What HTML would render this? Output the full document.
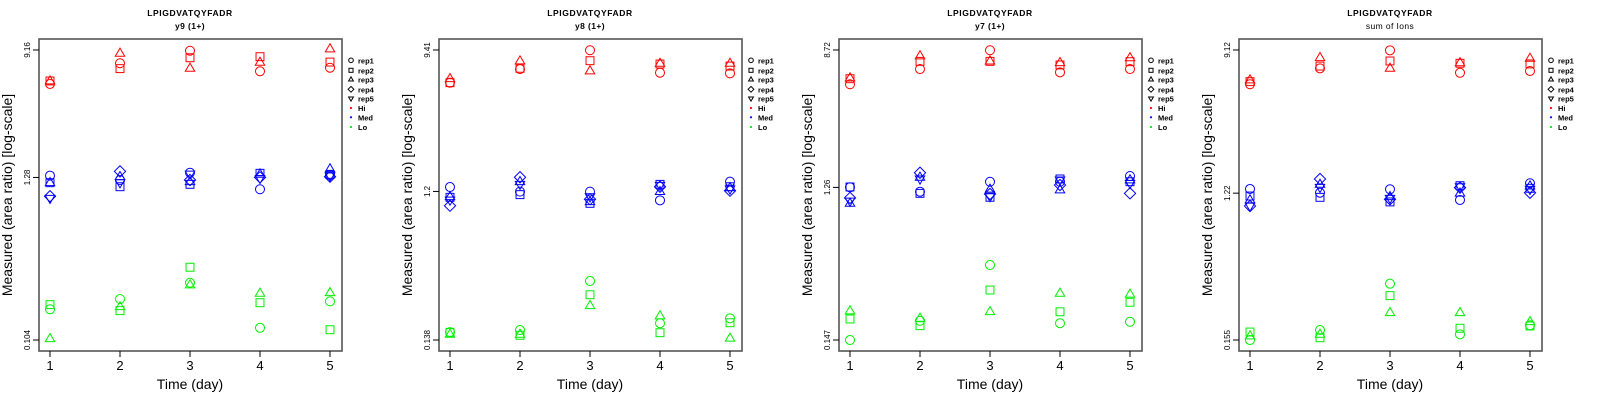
<!DOCTYPE html>
<html><head><meta charset="utf-8">
<style>
html,body{margin:0;padding:0;background:#fff;}
svg{display:block;font-family:"Liberation Sans",sans-serif;}
</style></head>
<body>
<svg id="chart" width="1600" height="400" viewBox="0 0 1600 400" xmlns="http://www.w3.org/2000/svg"></svg>
<script>
// Data: log10(area ratio), rows = replicates, columns = days 1..5
const days = [1, 2, 3, 4, 5];
const panelTitles = ["y9 (1+)", "y8 (1+)", "y7 (1+)", "sum of Ions"];
const peptide = "LPIGDVATQYFADR";
const tickLabels = [["0.104", "1.28", "9.16"], ["0.138", "1.2", "9.41"], ["0.147", "1.26", "8.72"], ["0.155", "1.22", "9.12"]];
const tickValues = [[0.104, 1.28, 9.16], [0.138, 1.2, 9.41], [0.147, 1.26, 8.72], [0.155, 1.22, 9.12]];

const p1Hi = [[0.734,0.873,0.957,0.819,0.843],[0.754,0.837,0.910,0.917,0.881],[0.754,0.940,0.839,0.879,0.969]];
const p1Med = [[0.119,0.090,0.139,0.028,0.124],[0.072,0.045,0.061,0.135,0.128],[0.072,0.112,0.079,0.130,0.164],[-0.019,0.148,0.090,0.108,0.112],[-0.033,0.072,0.130,0.101,0.117]];
const p1Lo = [[-0.777,-0.708,-0.599,-0.901,-0.724],[-0.746,-0.786,-0.495,-0.733,-0.914],[-0.974,-0.760,-0.614,-0.670,-0.666]];

const p2Hi = [[0.767,0.853,0.972,0.830,0.826],[0.767,0.858,0.906,0.885,0.872],[0.792,0.904,0.841,0.889,0.889]];
const p2Med = [[0.107,0.078,0.078,0.023,0.141],[0.042,0.059,0.004,0.124,0.109],[0.046,0.141,0.014,0.078,0.103],[-0.011,0.169,0.030,0.109,0.084],[0.025,0.124,0.046,0.118,0.095]];
const p2Lo = [[-0.810,-0.797,-0.487,-0.754,-0.723],[-0.812,-0.830,-0.574,-0.814,-0.751],[-0.824,-0.824,-0.643,-0.708,-0.849]];

const p3Hi = [[0.731,0.824,0.939,0.804,0.824],[0.765,0.871,0.871,0.849,0.869],[0.769,0.904,0.873,0.863,0.893]];
const p3Med = [[0.101,0.074,0.135,0.135,0.170],[0.103,0.064,0.040,0.152,0.135],[0.003,0.162,0.089,0.085,0.146],[0.036,0.190,0.060,0.115,0.064],[0.017,0.152,0.044,0.146,0.125]];
const p3Lo = [[-0.833,-0.715,-0.374,-0.730,-0.721],[-0.704,-0.745,-0.527,-0.660,-0.602],[-0.655,-0.700,-0.660,-0.547,-0.553]];

const p4Hi = [[0.751,0.848,0.958,0.821,0.832],[0.767,0.862,0.893,0.879,0.875],[0.777,0.913,0.848,0.882,0.909]];
const p4Med = [[0.112,0.089,0.110,0.045,0.147],[0.069,0.061,0.033,0.132,0.116],[0.045,0.140,0.065,0.086,0.130],[0.008,0.173,0.049,0.120,0.089],[0.008,0.122,0.055,0.126,0.110]];
const p4Lo = [[-0.810,-0.749,-0.466,-0.775,-0.720],[-0.761,-0.796,-0.539,-0.738,-0.724],[-0.785,-0.775,-0.643,-0.643,-0.698]];

const panelsHi = [p1Hi, p2Hi, p3Hi, p4Hi];
const panelsMed = [p1Med, p2Med, p3Med, p4Med];
const panelsLo = [p1Lo, p2Lo, p3Lo, p4Lo];
const legendLabels = ["rep1", "rep2", "rep3", "rep4", "rep5", "Hi", "Med", "Lo"];

const NS = "http://www.w3.org/2000/svg";
const svg = document.getElementById("chart");
function mk(tag, attrs, parent) {
  const e = document.createElementNS(NS, tag);
  for (const k in attrs) e.setAttribute(k, attrs[k]);
  parent.appendChild(e);
  return e;
}
function marker(shape, cx, cy, color, parent, r) {
  let e;
  if (shape === 0) e = mk("circle", {cx: cx, cy: cy, r: r, fill: "none", stroke: color, "stroke-width": 1}, parent);
  else if (shape === 1) e = mk("rect", {x: cx - r * 0.88, y: cy - r * 0.88, width: r * 1.76, height: r * 1.76, fill: "none", stroke: color, "stroke-width": 1}, parent);
  else if (shape === 2) e = mk("polygon", {points: `${cx},${cy - r * 1.15} ${cx - r * 1.05},${cy + r * 0.65} ${cx + r * 1.05},${cy + r * 0.65}`, fill: "none", stroke: color, "stroke-width": 1}, parent);
  else if (shape === 3) e = mk("polygon", {points: `${cx},${cy - r * 1.25} ${cx + r * 1.25},${cy} ${cx},${cy + r * 1.25} ${cx - r * 1.25},${cy}`, fill: "none", stroke: color, "stroke-width": 1}, parent);
  else e = mk("polygon", {points: `${cx},${cy + r * 1.15} ${cx - r * 1.05},${cy - r * 0.65} ${cx + r * 1.05},${cy - r * 0.65}`, fill: "none", stroke: color, "stroke-width": 1}, parent);
  return e;
}

for (let p = 0; p < 4; p++) {
  const ox = p * 400;
  const g = mk("g", {transform: `translate(${ox},0)`}, svg);
  
  
  const lmin = Math.log10(tickValues[p][0]);
  const lmax = Math.log10(tickValues[p][2]);
  const yScale = v => 50 + (lmax - v) / (lmax - lmin) * 290;
  const xScale = d => 50 + (d - 1) * 70;

  const t1 = mk("text", {x: 190, y: 16, "text-anchor": "middle", "font-size": 8.5, "font-weight": "bold", "letter-spacing": "0.6"}, g);
  t1.textContent = peptide;
  
  
  const t2 = mk("text", {x: 190, y: 29, "text-anchor": "middle", "font-size": 8.5, "font-weight": p === 3 ? "normal" : "bold", "letter-spacing": "0.4"}, g);
  t2.textContent = panelTitles[p];
  
  

  const box = mk("rect", {x: 39, y: 39, width: 303, height: 312, fill: "none", stroke: "#555", "stroke-width": 1.6}, g);
  
  

  for (let i = 0; i < 3; i++) {
    const y = yScale(Math.log10(tickValues[p][i]));
    mk("line", {x1: 33, x2: 39, y1: y, y2: y, stroke: "#000", "stroke-width": 1}, g);
    const tl = mk("text", {x: 0, y: 0, transform: `translate(30,${y}) rotate(-90)`, "text-anchor": "middle", "font-size": 8}, g);
    tl.textContent = tickLabels[p][i];
    
    
  }
  days.forEach(d => {
    const x = xScale(d);
    mk("line", {x1: x, x2: x, y1: 351, y2: 357, stroke: "#000", "stroke-width": 1}, g);
    const tl = mk("text", {x: x, y: 370, "text-anchor": "middle", "font-size": 13}, g);
    tl.textContent = d;
    
    
  });
  const xt = mk("text", {x: 190, y: 389, "text-anchor": "middle", "font-size": 14}, g);
  xt.textContent = "Time (day)";
  
  
  const yt = mk("text", {x: 0, y: 0, transform: "translate(12,195) rotate(-90)", "text-anchor": "middle", "font-size": 14}, g);
  yt.textContent = "Measured (area ratio) [log-scale]";
  
  

  const groups = [[panelsHi[p], "#ff0000", "hi"], [panelsMed[p], "#0000ff", "med"], [panelsLo[p], "#00ee00", "lo"]];
  groups.forEach(([data, color, nm]) => {
    data.forEach((row, rep) => {
      row.forEach((v, di) => {
        const m = marker(rep, xScale(days[di]), yScale(v), color, g, 4.5);
        
        
      });
    });
  });

  const lg = mk("g", {}, g);
  
  
  const ly = [60.3, 70.3, 79.5, 89.3, 98.5, 108, 117.3, 127];
  const lcol = ["#ff0000", "#0000ff", "#00ee00"];
  legendLabels.forEach((lab, i) => {
    const y = ly[i];
    if (i < 5) {
      const m = marker(i, 351, y, "#000", lg, 2.3);
      
      
    } else {
      const c = mk("circle", {cx: 351, cy: y, r: 1.1, fill: lcol[i - 5]}, lg);
      
      
    }
    const t = mk("text", {x: 358, y: y + 3, "font-size": 7.5, "font-weight": "bold"}, lg);
    t.textContent = lab;
    
    
  });
}
</script>
</body></html>
